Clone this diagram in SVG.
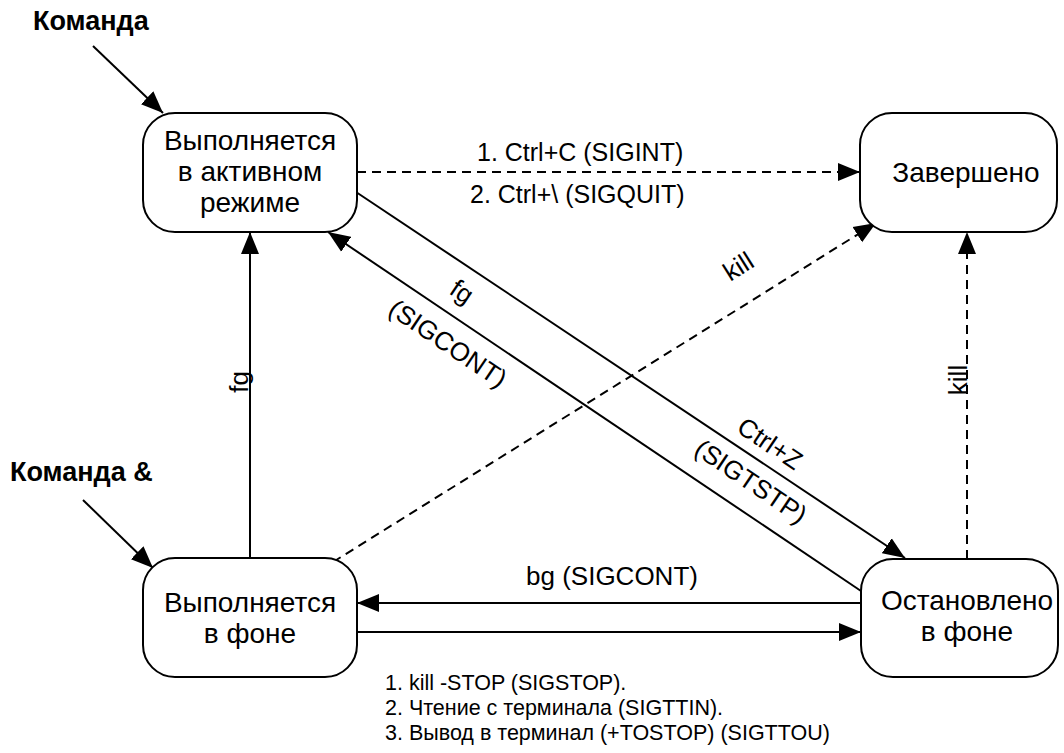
<svg xmlns="http://www.w3.org/2000/svg" width="1064" height="753" viewBox="0 0 1064 753">
<style>
.box{fill:#fff;stroke:#000;stroke-width:2}
.t{font-family:"Liberation Sans",Arial,sans-serif;font-size:26px;fill:#000}
.n{font-size:28px}
.s{font-size:25px}
.f{font-size:21.5px}
.c{text-anchor:middle}
.b{font-weight:bold;font-size:27px}
.ln{stroke:#000;stroke-width:2;fill:none}
.d{stroke-dasharray:9 6}
</style>
<defs>
<marker id="ah" markerUnits="userSpaceOnUse" markerWidth="24" markerHeight="20" refX="22" refY="10" orient="auto">
<path d="M0,1 L22,10 L0,19 Z" fill="#000"/>
</marker>
</defs>
<rect width="1064" height="753" fill="#fff"/>
<g id="connectors">
<line class="ln" x1="93" y1="46" x2="163" y2="113" marker-end="url(#ah)"/>
<line class="ln" x1="83" y1="500" x2="153" y2="568" marker-end="url(#ah)"/>
<line class="ln d" x1="357" y1="172" x2="860" y2="172" marker-end="url(#ah)"/>
<line class="ln" x1="356" y1="192" x2="905" y2="558" marker-end="url(#ah)"/>
<line class="ln" x1="861" y1="591" x2="328" y2="232" marker-end="url(#ah)"/>
<line class="ln d" x1="333" y1="562" x2="876" y2="223" marker-end="url(#ah)"/>
<line class="ln d" x1="967" y1="559" x2="967" y2="232" marker-end="url(#ah)"/>
<line class="ln" x1="250" y1="558" x2="250" y2="232" marker-end="url(#ah)"/>
<line class="ln" x1="861" y1="603" x2="357" y2="603" marker-end="url(#ah)"/>
<line class="ln" x1="357" y1="632" x2="861" y2="632" marker-end="url(#ah)"/>
<text class="t s" x="477" y="161">1. Ctrl+C (SIGINT)</text>
<text class="t s" x="470" y="203">2. Ctrl+\ (SIGQUIT)</text>
<text class="t c" transform="translate(457,299) rotate(34)">fg</text>
<text class="t c" transform="translate(443,351) rotate(34)">(SIGCONT)</text>
<text class="t c" transform="translate(765,451) rotate(34)">Ctrl+Z</text>
<text class="t c" transform="translate(746,489) rotate(34)">(SIGTSTP)</text>
<text class="t c" transform="translate(743,274) rotate(-32)">kill</text>
<text class="t c" transform="translate(967,380) rotate(-90)">kill</text>
<text class="t c" transform="translate(248,382) rotate(-90)">fg</text>
<text class="t c" x="612" y="585">bg (SIGCONT)</text>
<text class="t f" x="385" y="690">1. kill -STOP (SIGSTOP).</text>
<text class="t f" x="385" y="715">2. Чтение с терминала (SIGTTIN).</text>
<text class="t f" x="385" y="740">3. Вывод в терминал (+TOSTOP) (SIGTTOU)</text>
</g>
<g id="cmd">
<text class="t b" x="33" y="30">Команда</text>
</g>
<g id="cmd-bg">
<text class="t b" x="10" y="481">Команда &amp;</text>
</g>
<g id="fg-run">
<rect class="box" x="143" y="113" width="214" height="119" rx="32"/>
<text class="t n c" x="250" y="150">Выполняется</text>
<text class="t n c" x="250" y="181">в активном</text>
<text class="t n c" x="250" y="212">режиме</text>
</g>
<g id="done">
<rect class="box" x="860" y="113" width="197" height="119" rx="32"/>
<text class="t n c" x="966" y="182">Завершено</text>
</g>
<g id="bg-run">
<rect class="box" x="143" y="558" width="214" height="119" rx="32"/>
<text class="t n c" x="250" y="612">Выполняется</text>
<text class="t n c" x="250" y="643">в фоне</text>
</g>
<g id="stopped">
<rect class="box" x="861" y="559" width="197" height="118" rx="32"/>
<text class="t n c" x="967" y="610">Остановлено</text>
<text class="t n c" x="967" y="641">в фоне</text>
</g>
</svg>
